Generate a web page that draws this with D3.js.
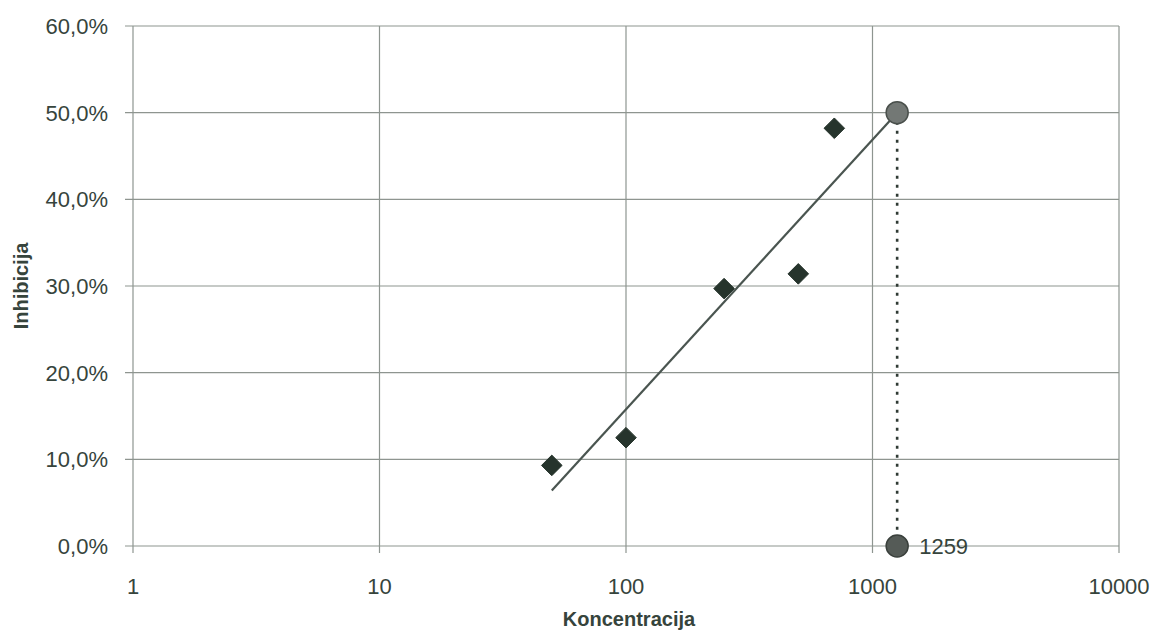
<!DOCTYPE html>
<html><head><meta charset="utf-8">
<script src="https://cdn.jsdelivr.net/npm/d3@7"></script>
<style>body{margin:0;background:#fff}svg{display:block}</style>
</head><body><svg id="c" width="1157" height="631"></svg>
<script>
const concentrations = [50, 100, 250, 500, 700];
const inhibition = [0.093, 0.125, 0.297, 0.314, 0.482];
const trendX = [50, 1259];
const trendY = [0.064, 0.50];
const ic50 = 1259;
const ic50Level = 0.50;
const xTicks = [1, 10, 100, 1000, 10000];
const yTicks = [0, 0.1, 0.2, 0.3, 0.4, 0.5, 0.6];

const svg = d3.select('#c');
const L = 133, R = 1119, T = 26, B = 546;
const x = d3.scaleLog().domain([1, 10000]).range([L, R]);
const y = d3.scaleLinear().domain([0, 0.6]).range([B, T]);
const txt = '#36443c', grid = '#8e9590';
const font = '"Liberation Sans", Arial, sans-serif';

const g = svg.append('g');
// grid
g.selectAll('.hg').data(yTicks).join('line')
  .attr('x1', L - 8).attr('x2', R).attr('y1', d => y(d)).attr('y2', d => y(d))
  .attr('stroke', grid).attr('stroke-width', 1.2);
g.selectAll('.vg').data(xTicks).join('line')
  .attr('y1', T).attr('y2', B + 7).attr('x1', d => x(d)).attr('x2', d => x(d))
  .attr('stroke', grid).attr('stroke-width', 1.2);

// tick labels
const fmt = d => d3.format('.1f')(d * 100).replace('.', ',') + '%';
g.selectAll('.yl').data(yTicks).join('text')
  .attr('x', L - 25).attr('y', d => y(d)).attr('dy', '0.36em')
  .attr('text-anchor', 'end').attr('font-family', font).attr('font-size', 22)
  .attr('fill', txt).text(fmt);
g.selectAll('.xl').data(xTicks).join('text')
  .attr('x', d => x(d)).attr('y', 594)
  .attr('text-anchor', 'middle').attr('font-family', font).attr('font-size', 22)
  .attr('fill', txt).text(d => d);

// axis titles
svg.append('text').attr('transform', `translate(28,${(T + B) / 2}) rotate(-90)`)
  .attr('text-anchor', 'middle').attr('font-family', font).attr('font-size', 20)
  .attr('font-weight', 'bold').attr('fill', txt).text('Inhibicija');
svg.append('text').attr('x', 629).attr('y', 626)
  .attr('text-anchor', 'middle').attr('font-family', font).attr('font-size', 20)
  .attr('font-weight', 'bold').attr('fill', txt).text('Koncentracija');

// trend line
svg.append('line')
  .attr('x1', x(trendX[0])).attr('y1', y(trendY[0]))
  .attr('x2', x(trendX[1])).attr('y2', y(trendY[1]))
  .attr('stroke', '#4a5550').attr('stroke-width', 2.2);

// dotted drop line
svg.append('line')
  .attr('x1', x(ic50)).attr('x2', x(ic50)).attr('y1', y(ic50Level)).attr('y2', y(0))
  .attr('stroke', '#2f3a34').attr('stroke-width', 2.6).attr('stroke-dasharray', '3,6');

// diamonds
const pts = concentrations.map((c, i) => [c, inhibition[i]]);
svg.selectAll('.dm').data(pts).join('path')
  .attr('d', d3.symbol().type(d3.symbolDiamond2).size(270))
  .attr('transform', d => `translate(${x(d[0])},${y(d[1])})`)
  .attr('fill', '#26342c').attr('stroke', '#26342c').attr('stroke-width', 1);

// IC50 circles
svg.append('circle').attr('cx', x(ic50)).attr('cy', y(ic50Level)).attr('r', 11)
  .attr('fill', '#737875').attr('stroke', '#4a504c').attr('stroke-width', 1.5);
svg.append('circle').attr('cx', x(ic50)).attr('cy', y(0)).attr('r', 11)
  .attr('fill', '#555b57').attr('stroke', '#3a403c').attr('stroke-width', 1.5);
svg.append('text').attr('x', x(ic50) + 22).attr('y', y(0)).attr('dy', '0.36em')
  .attr('font-family', font).attr('font-size', 22).attr('fill', txt).text(ic50);
</script></body></html>
